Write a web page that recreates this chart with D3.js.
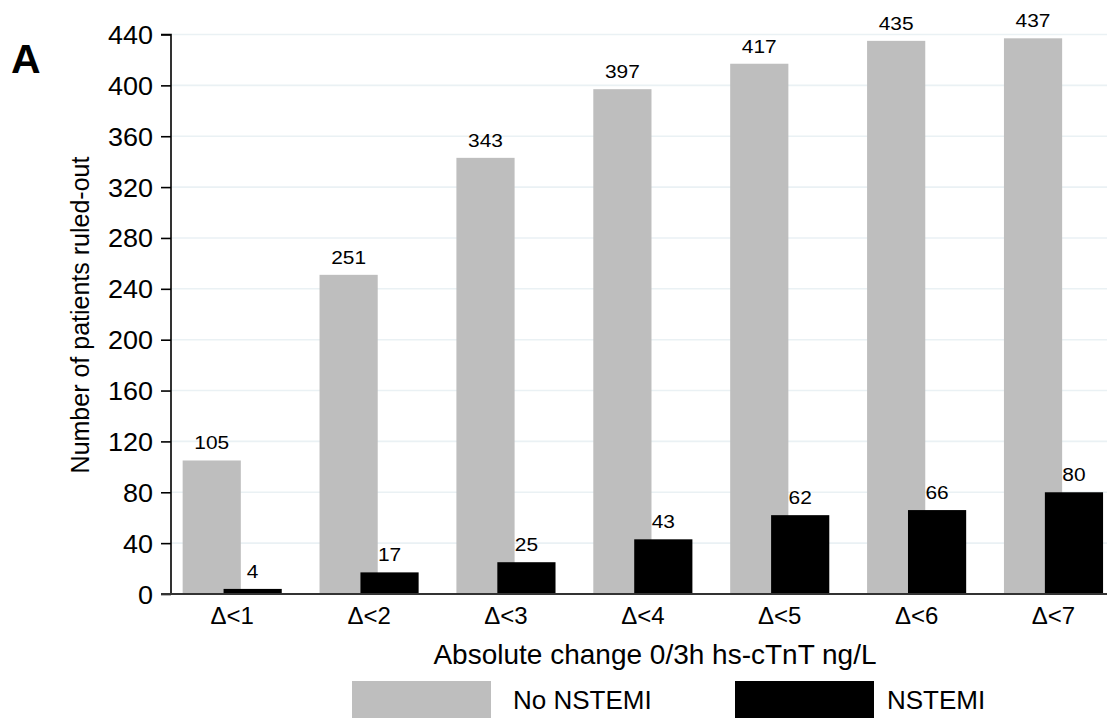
<!DOCTYPE html>
<html>
<head>
<meta charset="utf-8">
<script src="https://cdn.jsdelivr.net/npm/d3@7"></script>
<style>
  html, body { margin: 0; padding: 0; background: #fff; }
  svg { display: block; }
  text { font-family: Helvetica, "Liberation Sans", Arial, sans-serif; fill: #000; }
</style>
</head>
<body>
<svg id="chart" width="1107" height="718"></svg>
<script>
const categories = ["Δ<1", "Δ<2", "Δ<3", "Δ<4", "Δ<5", "Δ<6", "Δ<7"];
const noNstemi = [105, 251, 343, 397, 417, 435, 437];
const nstemi = [4, 17, 25, 43, 62, 66, 80];
const seriesNames = ["No NSTEMI", "NSTEMI"];
const seriesColors = ["#bebebe", "#000000"];
const yTicks = [0, 40, 80, 120, 160, 200, 240, 280, 320, 360, 400, 440];

const svg = d3.select("#chart");
const axisX = 171, plotRight = 1107;

const y = d3.scaleLinear().domain([0, 440]).range([594, 34.5]);
const x = d3.scaleBand().domain(categories).range([163.75, 1121.95])
  .paddingInner(0.276).paddingOuter(0.138);
const bw = x.bandwidth();
const barW = bw * 58.3 / 99.3;
const offsets = [0, bw - barW];

// gridlines
svg.append("g").selectAll("line").data(yTicks.filter(d => d > 0)).join("line")
  .attr("x1", axisX).attr("x2", plotRight)
  .attr("y1", d => y(d)).attr("y2", d => y(d))
  .attr("stroke", "#eaf1f4").attr("stroke-width", 1.6);

// bars and value labels
const series = [noNstemi, nstemi];
series.forEach((vals, si) => {
  const g = svg.append("g");
  g.selectAll("rect").data(vals).join("rect")
    .attr("x", (d, i) => x(categories[i]) + offsets[si])
    .attr("y", d => y(d))
    .attr("width", barW)
    .attr("height", d => y(0) - y(d))
    .attr("fill", seriesColors[si]);
  g.selectAll("text").data(vals).join("text")
    .attr("transform", (d, i) => `translate(${x(categories[i]) + offsets[si] + barW / 2},${y(d) - 11}) scale(1.1,1)`)
    .attr("text-anchor", "middle")
    .attr("font-size", 19)
    .text(d => d);
});

// y axis
const yAxis = d3.axisLeft(y).tickValues(yTicks).tickSize(10).tickPadding(7);
const gy = svg.append("g").attr("transform", `translate(${axisX},0)`).call(yAxis);
gy.select(".domain").attr("stroke", "#000").attr("stroke-width", 1.6).attr("d", `M-10,${y(440)}H0V${y(0)}`);
gy.selectAll(".tick line").attr("stroke", "#000").attr("stroke-width", 1.6);
gy.selectAll(".tick text").attr("font-size", 25).attr("font-family", null).attr("fill", "#000")
  .attr("x", null).attr("dy", "0.36em")
  .attr("transform", "translate(-18,0) scale(1.08,1)");

// x axis
const xAxis = d3.axisBottom(x).tickSize(0).tickPadding(13);
const gx = svg.append("g").attr("transform", `translate(0,${y(0)})`).call(xAxis);
gx.select(".domain").attr("stroke", "#333").attr("stroke-width", 1.8).attr("d", `M${axisX - 10},0H${plotRight}`);
gx.selectAll(".tick text").attr("font-size", 24).attr("font-family", null).attr("fill", "#000");

// axis titles
svg.append("text").attr("x", 655).attr("y", 664).attr("text-anchor", "middle")
  .attr("font-size", 28).text("Absolute change 0/3h hs-cTnT ng/L");
svg.append("text").attr("transform", "translate(89,315) rotate(-90)")
  .attr("text-anchor", "middle").attr("font-size", 25).text("Number of patients ruled-out");

// panel label
svg.append("text").attr("x", 11).attr("y", 73).attr("font-size", 41).attr("font-weight", "bold").text("A");

// legend
const legendX = [352, 735];
const legendTextX = [513, 887];
seriesNames.forEach((name, i) => {
  svg.append("rect").attr("x", legendX[i]).attr("y", 681).attr("width", 139).attr("height", 40)
    .attr("fill", seriesColors[i]);
  svg.append("text").attr("x", legendTextX[i]).attr("y", 709).attr("font-size", 26).text(name);
});
</script>
</body>
</html>
